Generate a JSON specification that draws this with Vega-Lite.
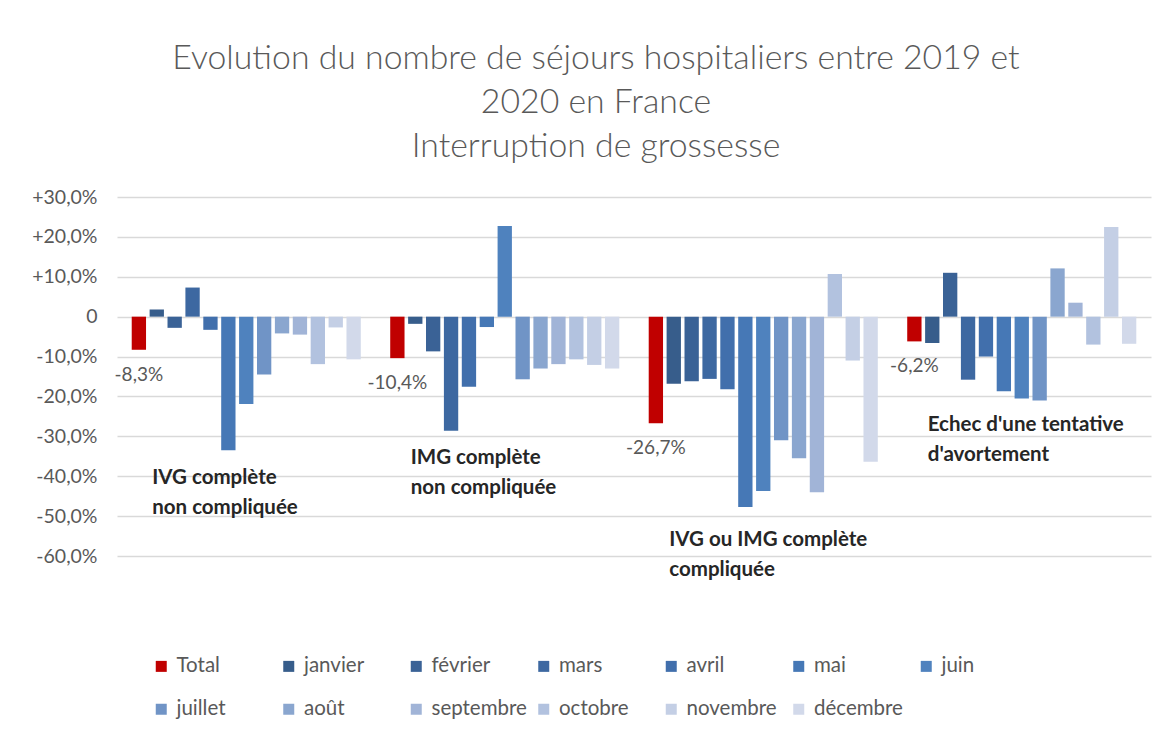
{
  "$schema": "https://vega.github.io/schema/vega-lite/v6.json",
  "width": 1034,
  "height": 359,
  "autosize": {"type": "none"},
  "padding": {"left": 117, "top": 197, "right": 15, "bottom": 177},
  "background": "white",
  "config": {"font": "Lato", "view": {"stroke": null}},
  "title": {
    "text": ["Evolution du nombre de séjours hospitaliers entre 2019 et", "2020 en France", "Interruption de grossesse"],
    "fontSize": 33.8, "fontWeight": 300, "color": "#595959", "anchor": "middle", "frame": "group",
    "dx": -38, "offset": 23, "lineHeight": 44
  },
  "datasets": {
    "bars": [
      {"acte": "IVG NC", "serie": "Total", "evol": -8.3},
      {"acte": "IVG NC", "serie": "janvier", "evol": 1.8},
      {"acte": "IVG NC", "serie": "février", "evol": -2.8},
      {"acte": "IVG NC", "serie": "mars", "evol": 7.3},
      {"acte": "IVG NC", "serie": "avril", "evol": -3.3},
      {"acte": "IVG NC", "serie": "mai", "evol": -33.5},
      {"acte": "IVG NC", "serie": "juin", "evol": -21.9},
      {"acte": "IVG NC", "serie": "juillet", "evol": -14.5},
      {"acte": "IVG NC", "serie": "août", "evol": -4.2},
      {"acte": "IVG NC", "serie": "septembre", "evol": -4.5},
      {"acte": "IVG NC", "serie": "octobre", "evol": -11.9},
      {"acte": "IVG NC", "serie": "novembre", "evol": -2.7},
      {"acte": "IVG NC", "serie": "décembre", "evol": -10.7},
      {"acte": "IMG NC", "serie": "Total", "evol": -10.4},
      {"acte": "IMG NC", "serie": "janvier", "evol": -1.8},
      {"acte": "IMG NC", "serie": "février", "evol": -8.7},
      {"acte": "IMG NC", "serie": "mars", "evol": -28.6},
      {"acte": "IMG NC", "serie": "avril", "evol": -17.6},
      {"acte": "IMG NC", "serie": "mai", "evol": -2.6},
      {"acte": "IMG NC", "serie": "juin", "evol": 22.7},
      {"acte": "IMG NC", "serie": "juillet", "evol": -15.7},
      {"acte": "IMG NC", "serie": "août", "evol": -13.0},
      {"acte": "IMG NC", "serie": "septembre", "evol": -11.9},
      {"acte": "IMG NC", "serie": "octobre", "evol": -10.7},
      {"acte": "IMG NC", "serie": "novembre", "evol": -12.1},
      {"acte": "IMG NC", "serie": "décembre", "evol": -13.0},
      {"acte": "IVG IMG C", "serie": "Total", "evol": -26.7},
      {"acte": "IVG IMG C", "serie": "janvier", "evol": -16.8},
      {"acte": "IVG IMG C", "serie": "février", "evol": -16.2},
      {"acte": "IVG IMG C", "serie": "mars", "evol": -15.6},
      {"acte": "IVG IMG C", "serie": "avril", "evol": -18.2},
      {"acte": "IVG IMG C", "serie": "mai", "evol": -47.7},
      {"acte": "IVG IMG C", "serie": "juin", "evol": -43.7},
      {"acte": "IVG IMG C", "serie": "juillet", "evol": -31.0},
      {"acte": "IVG IMG C", "serie": "août", "evol": -35.5},
      {"acte": "IVG IMG C", "serie": "septembre", "evol": -44.0},
      {"acte": "IVG IMG C", "serie": "octobre", "evol": 10.7},
      {"acte": "IVG IMG C", "serie": "novembre", "evol": -11.0},
      {"acte": "IVG IMG C", "serie": "décembre", "evol": -36.4},
      {"acte": "Echec", "serie": "Total", "evol": -6.2},
      {"acte": "Echec", "serie": "janvier", "evol": -6.6},
      {"acte": "Echec", "serie": "février", "evol": 11.0},
      {"acte": "Echec", "serie": "mars", "evol": -15.8},
      {"acte": "Echec", "serie": "avril", "evol": -10.0},
      {"acte": "Echec", "serie": "mai", "evol": -18.7},
      {"acte": "Echec", "serie": "juin", "evol": -20.5},
      {"acte": "Echec", "serie": "juillet", "evol": -21.0},
      {"acte": "Echec", "serie": "août", "evol": 12.1},
      {"acte": "Echec", "serie": "septembre", "evol": 3.5},
      {"acte": "Echec", "serie": "octobre", "evol": -7.0},
      {"acte": "Echec", "serie": "novembre", "evol": 22.5},
      {"acte": "Echec", "serie": "décembre", "evol": -6.8}
    ],
    "groupes": [
      {"acte": "IVG NC", "nom": "IVG complète\nnon compliquée", "ancre": -37.9},
      {"acte": "IMG NC", "nom": "IMG complète\nnon compliquée", "ancre": -32.9},
      {"acte": "IVG IMG C", "nom": "IVG ou IMG complète\ncompliquée", "ancre": -53.5},
      {"acte": "Echec", "nom": "Echec d'une tentative\nd'avortement", "ancre": -24.6}
    ]
  },
  "layer": [
    {
      "data": {"name": "bars"},
      "mark": {"type": "bar"},
      "encoding": {
        "x": {"field": "acte", "type": "nominal", "axis": null,
              "scale": {"domain": ["IVG NC", "IMG NC", "IVG IMG C", "Echec"], "paddingInner": 0.1, "paddingOuter": 0.05}},
        "xOffset": {"field": "serie", "type": "nominal",
              "scale": {"domain": ["Total", "janvier", "février", "mars", "avril", "mai", "juin", "juillet", "août", "septembre", "octobre", "novembre", "décembre"], "paddingInner": 0.2, "paddingOuter": 0.1}},
        "y": {"field": "evol", "type": "quantitative",
              "scale": {"domain": [-60, 30], "nice": false},
              "axis": {"title": null, "values": [30, 20, 10, 0, -10, -20, -30, -40, -50, -60], "tickCount": 10, "labelOverlap": false,
                       "labelExpr": "datum.value == 0 ? '0' : (datum.value > 0 ? '+' : '') + datum.value + ',0%'",
                       "domain": false, "ticks": false, "labelFontSize": 19.5, "labelColor": "#595959",
                       "labelPadding": 20, "gridColor": "#d9d9d9", "gridWidth": 1.5}},
        "color": {"field": "serie", "type": "nominal",
              "scale": {"domain": ["Total", "janvier", "février", "mars", "avril", "mai", "juin", "juillet", "août", "septembre", "octobre", "novembre", "décembre"],
                        "range": ["#C00000", "#375D8B", "#3A6296", "#3D68A1", "#416FAC", "#4678B6", "#4F82BE", "#7094C6", "#8AA6CF", "#A1B4D7", "#B2C2DF", "#C4CFE5", "#D2D9EA"]},
              "legend": {"orient": "none", "legendX": 34, "legendY": 459, "direction": "horizontal", "columns": 7,
                         "symbolType": "square", "symbolSize": 121, "symbolStrokeWidth": 0, "labelFontSize": 20.5,
                         "labelColor": "#595959", "title": null, "gridAlign": "all", "columnPadding": 6.5,
                         "rowPadding": 22, "labelOffset": 5}}
      }
    },
    {
      "data": {"name": "bars"},
      "transform": [
        {"filter": "datum.serie == 'Total'"},
        {"calculate": "replace(datum.evol + '', '.', ',') + '%'", "as": "etiquette"}
      ],
      "mark": {"type": "text", "baseline": "top", "align": "center", "dy": 16, "fontSize": 19, "color": "#595959"},
      "encoding": {
        "x": {"field": "acte", "type": "nominal"},
        "xOffset": {"field": "serie", "type": "nominal"},
        "y": {"field": "evol", "type": "quantitative",
              "axis": {"title": null, "values": [30, 20, 10, 0, -10, -20, -30, -40, -50, -60], "tickCount": 10, "labelOverlap": false,
                       "labelExpr": "datum.value == 0 ? '0' : (datum.value > 0 ? '+' : '') + datum.value + ',0%'",
                       "domain": false, "ticks": false, "labelFontSize": 19.5, "labelColor": "#595959",
                       "labelPadding": 20, "gridColor": "#d9d9d9", "gridWidth": 1.5}},
        "text": {"field": "etiquette"}
      }
    },
    {
      "data": {"name": "groupes"},
      "mark": {"type": "text", "baseline": "top", "align": "left", "dx": -94, "fontSize": 20.5, "fontWeight": "bold", "color": "#262626", "lineBreak": "\n", "lineHeight": 30},
      "encoding": {
        "x": {"field": "acte", "type": "nominal"},
        "y": {"field": "ancre", "type": "quantitative",
              "axis": {"title": null, "values": [30, 20, 10, 0, -10, -20, -30, -40, -50, -60], "tickCount": 10, "labelOverlap": false,
                       "labelExpr": "datum.value == 0 ? '0' : (datum.value > 0 ? '+' : '') + datum.value + ',0%'",
                       "domain": false, "ticks": false, "labelFontSize": 19.5, "labelColor": "#595959",
                       "labelPadding": 20, "gridColor": "#d9d9d9", "gridWidth": 1.5}},
        "text": {"field": "nom"}
      }
    }
  ]
}
